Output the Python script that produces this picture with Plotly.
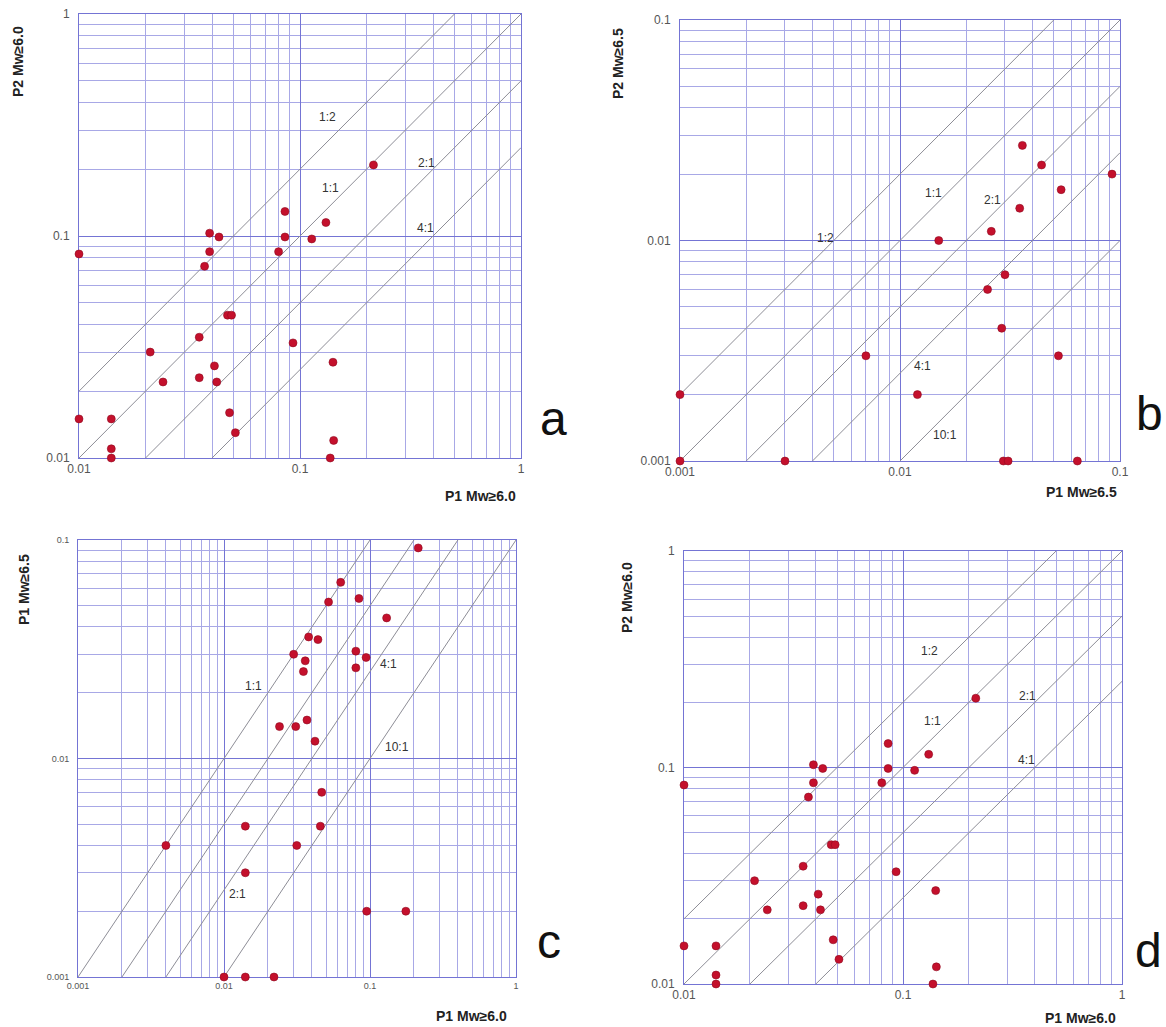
import plotly.graph_objects as go

W, H = 1166, 1027

# ---------------- data ----------------
# Panel a / d : P1 Mw>=6.0 (x) vs P2 Mw>=6.0 (y)
a_p1 = [0.010, 0.039, 0.043, 0.039, 0.037, 0.0855, 0.0855, 0.080, 0.215, 0.131,
        0.113, 0.047, 0.049, 0.035, 0.021, 0.041, 0.024, 0.035, 0.042, 0.093,
        0.141, 0.048, 0.051, 0.010, 0.014, 0.014, 0.014, 0.142, 0.137]
a_p2 = [0.083, 0.103, 0.099, 0.085, 0.073, 0.129, 0.099, 0.085, 0.209, 0.115,
        0.097, 0.044, 0.044, 0.035, 0.030, 0.026, 0.022, 0.023, 0.022, 0.033,
        0.027, 0.016, 0.013, 0.015, 0.015, 0.011, 0.010, 0.012, 0.010]

# Panel b : P1 Mw>=6.5 (x) vs P2 Mw>=6.5 (y)
b_p1 = [0.036, 0.044, 0.092, 0.054, 0.035, 0.026, 0.015, 0.030, 0.025, 0.029,
        0.0525, 0.012, 0.0295, 0.031, 0.064, 0.007, 0.001, 0.001, 0.003]
b_p2 = [0.027, 0.022, 0.020, 0.017, 0.014, 0.011, 0.010, 0.007, 0.006, 0.004,
        0.003, 0.002, 0.001, 0.001, 0.001, 0.003, 0.002, 0.001, 0.001]

# Panel c : P1 Mw>=6.0 (x) vs P1 Mw>=6.5 (y)
c_x = [0.214, 0.063, 0.052, 0.084, 0.130, 0.038, 0.044, 0.030, 0.036, 0.035,
       0.080, 0.094, 0.080, 0.024, 0.031, 0.037, 0.042, 0.0467, 0.0457, 0.0315,
       0.004, 0.014, 0.014, 0.0949, 0.176, 0.010, 0.014, 0.022]
c_y = [0.092, 0.064, 0.052, 0.054, 0.044, 0.036, 0.035, 0.030, 0.028, 0.025,
       0.031, 0.029, 0.026, 0.014, 0.014, 0.015, 0.012, 0.007, 0.0049, 0.004,
       0.004, 0.0049, 0.003, 0.002, 0.002, 0.001, 0.001, 0.001]

# ratio lines (P1 : P2) and their labels
a_ratios = [0.5, 1, 2, 4]
a_ratio_labels = ["1:2", "1:1", "2:1", "4:1"]
b_ratios = [0.5, 1, 2, 4, 10]
b_ratio_labels = ["1:2", "1:1", "2:1", "4:1", "10:1"]
c_ratios = [1, 2, 4, 10]
c_ratio_labels = ["1:1", "2:1", "4:1", "10:1"]

# tick labels
a_ticks = [0.01, 0.1, 1]
a_ticktext = ["0.01", "0.1", "1"]
b_ticks = [0.001, 0.01, 0.1]
b_ticktext = ["0.001", "0.01", "0.1"]
c_xticks = [0.001, 0.01, 0.1, 1]
c_xticktext = ["0.001", "0.01", "0.1", "1"]
c_yticks = [0.001, 0.01, 0.1]
c_yticktext = ["0.001", "0.01", "0.1"]

# ---------------- layout helpers ----------------
FONT = "Liberation Sans, Arial, sans-serif"
MAJOR = "#7474d4"
MINOR = "#a8a8e6"
LINE = "#8d8d96"
DOT = "#c4102c"


def px(x):
    return x / W


def py(y):
    return 1 - y / H


def minor_vals(lo, hi):
    vals = []
    for e in range(lo, hi):
        for k in range(2, 10):
            vals.append(k * 10 ** e)
    return vals


# label positions for d, mapped from panel a's frame-relative positions
a_box = (79, 14, 521, 458)
d_box = (684, 551, 1122, 984)
a_rlpos = [(327, 117), (330, 188), (426, 163), (425, 228)]


def remap(pt, src, dst):
    fx = (pt[0] - src[0]) / (src[2] - src[0])
    fy = (pt[1] - src[1]) / (src[3] - src[1])
    return (dst[0] + fx * (dst[2] - dst[0]), dst[1] + fy * (dst[3] - dst[1]))


panels = [
    dict(key="", x=a_p1, y=a_p2, xr=(-2, 0), yr=(-2, 0), box=a_box,
         ratios=a_ratios, rl=a_ratio_labels, rlpos=a_rlpos,
         xt=(a_ticks, a_ticktext), yt=(a_ticks, a_ticktext), tfs=12,
         xtitle="P1 Mw≥6.0", xtpos=(518, 496), ytitle="P2 Mw≥6.0", ytpos=(18, 62),
         letter="a", lpos=(553, 418)),
    dict(key="2", x=b_p1, y=b_p2, xr=(-3, -1), yr=(-3, -1), box=(680, 20, 1120, 461),
         ratios=b_ratios, rl=b_ratio_labels,
         rlpos=[(825, 238), (933, 193), (992, 200), (922, 366), (945, 435)],
         xt=(b_ticks, b_ticktext), yt=(b_ticks, b_ticktext), tfs=12,
         xtitle="P1 Mw≥6.5", xtpos=(1119, 492), ytitle="P2 Mw≥6.5", ytpos=(618, 64),
         letter="b", lpos=(1149, 414)),
    dict(key="3", x=c_x, y=c_y, xr=(-3, 0), yr=(-3, -1), box=(78, 540, 516, 977),
         ratios=c_ratios, rl=c_ratio_labels,
         rlpos=[(253, 686), (237, 894), (388, 664), (397, 747)],
         xt=(c_xticks, c_xticktext), yt=(c_yticks, c_yticktext), tfs=9,
         xtitle="P1 Mw≥6.0", xtpos=(509, 1016), ytitle="P1 Mw≥6.5", ytpos=(24, 590),
         letter="c", lpos=(549, 941)),
    dict(key="4", x=a_p1, y=a_p2, xr=(-2, 0), yr=(-2, 0), box=d_box,
         ratios=a_ratios, rl=a_ratio_labels,
         rlpos=[remap(p, a_box, d_box) for p in a_rlpos],
         xt=(a_ticks, a_ticktext), yt=(a_ticks, a_ticktext), tfs=12,
         xtitle="P1 Mw≥6.0", xtpos=(1118, 1018), ytitle="P2 Mw≥6.0", ytpos=(627, 598),
         letter="d", lpos=(1148, 950)),
]

fig = go.Figure()
annotations = []
layout = dict(width=W, height=H, autosize=False,
              margin=dict(l=0, r=0, t=0, b=0, autoexpand=False),
              paper_bgcolor="white", plot_bgcolor="white",
              showlegend=False, font=dict(family=FONT))

for p in panels:
    k = p["key"]
    xa, ya = "x" + k, "y" + k
    x0, y0, x1, y1 = p["box"]
    xlo, xhi = 10 ** p["xr"][0], 10 ** p["xr"][1]

    # ratio lines
    for r in p["ratios"]:
        fig.add_trace(go.Scatter(x=[xlo / 10, xhi], y=[xlo / 10 / r, xhi / r],
                                 mode="lines", line=dict(color=LINE, width=1),
                                 xaxis=xa, yaxis=ya, hoverinfo="skip"))
    # points
    fig.add_trace(go.Scatter(x=p["x"], y=p["y"], mode="markers",
                             marker=dict(color=DOT, size=8,
                                         line=dict(color="#8e0a20", width=0.6)),
                             cliponaxis=False, xaxis=xa, yaxis=ya))

    common = dict(type="log", showgrid=True, gridcolor=MAJOR, gridwidth=1,
                  showline=True, mirror=True, linecolor=MAJOR, linewidth=1,
                  zeroline=False, ticks="", automargin=False, layer="below traces",
                  tickfont=dict(family=FONT, size=p["tfs"], color="#555"))
    layout["xaxis" + k] = dict(common, range=list(p["xr"]),
                               domain=[px(x0), px(x1)], anchor=ya,
                               tickvals=p["xt"][0], ticktext=p["xt"][1],
                               minor=dict(tickvals=minor_vals(*p["xr"]), showgrid=True,
                                          gridcolor=MINOR, gridwidth=1))
    layout["yaxis" + k] = dict(common, range=list(p["yr"]),
                               domain=[py(y1), py(y0)], anchor=xa,
                               ticklabelstandoff=6,
                               tickvals=p["yt"][0], ticktext=p["yt"][1],
                               minor=dict(tickvals=minor_vals(*p["yr"]), showgrid=True,
                                          gridcolor=MINOR, gridwidth=1))

    for lab, (lx, ly) in zip(p["rl"], p["rlpos"]):
        annotations.append(dict(text=lab, x=px(lx), y=py(ly), xref="paper", yref="paper",
                                showarrow=False, xanchor="center", yanchor="middle",
                                font=dict(family=FONT, size=12, color="#333")))
    annotations.append(dict(text="<b>" + p["xtitle"] + "</b>", x=px(p["xtpos"][0]),
                            y=py(p["xtpos"][1]), xref="paper", yref="paper",
                            showarrow=False, xanchor="right", yanchor="middle",
                            font=dict(family=FONT, size=14, color="#222")))
    annotations.append(dict(text="<b>" + p["ytitle"] + "</b>", x=px(p["ytpos"][0]),
                            y=py(p["ytpos"][1]), xref="paper", yref="paper",
                            showarrow=False, xanchor="center", yanchor="middle",
                            textangle=-90,
                            font=dict(family=FONT, size=14, color="#222")))
    annotations.append(dict(text=p["letter"], x=px(p["lpos"][0]), y=py(p["lpos"][1]),
                            xref="paper", yref="paper", showarrow=False,
                            xanchor="center", yanchor="middle",
                            font=dict(family=FONT, size=48, color="#111")))

layout["annotations"] = annotations
fig.update_layout(**layout)
fig.write_html("out.html",
               config={"displayModeBar": False},
               post_script="document.body.style.margin='0px';"
                           "document.body.style.padding='0px';"
                           "document.body.style.overflow='hidden';")
